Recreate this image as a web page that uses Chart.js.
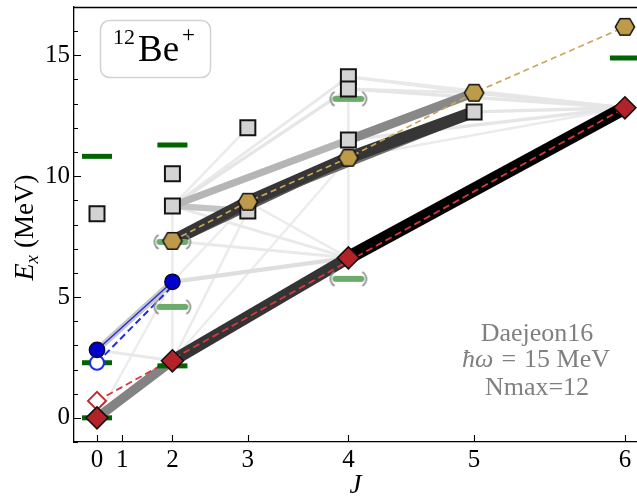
<!DOCTYPE html>
<html>
<head>
<meta charset="utf-8">
<script src="https://cdn.jsdelivr.net/npm/chart.js@4"></script>
<style>
  html, body { margin: 0; padding: 0; background: #fff; overflow: hidden; }
  #wrap { width: 637px; height: 496px; }
</style>
</head>
<body>
<div id="wrap"><canvas id="c" width="637" height="496"></canvas></div>
<script>
// ---- axis ticks ----
const J_TICKS = [0, 1, 2, 3, 4, 5, 6];
const Y_TICKS = [0, 5, 10, 15];

// ---- levels (J, excitation energy in MeV) ----
// firm experimental levels
const expJ = [0, 0, 0, 2, 2, 6];
const expE = [0.00, 2.28, 10.82, 2.15, 11.29, 14.89];
// tentative experimental levels
const tentJ = [2, 2, 4, 4];
const tentE = [4.59, 7.28, 5.75, 13.20];
// other calculated states
const calcJ = [0, 2, 2, 3, 3, 4, 4, 4, 5];
const calcE = [8.44, 10.10, 8.77, 12.00, 8.56, 14.11, 13.61, 11.50, 12.66];
// ground-state band and its rotational fit
const gsJ = [0, 2, 4, 6];
const gsE = [0.00, 2.36, 6.62, 12.83];
const gsFitE = [0.70, 2.43, 6.48, 12.83];
// excited band
const exJ = [2, 3, 4, 5, 6];
const exE = [7.32, 8.94, 10.76, 13.45, 16.18];
// 0+/2+ pair and its fit
const k0J = [0, 2];
const k0E = [2.81, 5.63];
const k0FitE = [2.28, 5.45];

// ---- E2 transitions: initial (J,E), final (J,E), relative strength ----
const trFromJ = [0, 2, 4, 2, 3, 2, 4, 3, 2, 4, 2, 2, 2, 2, 0, 2, 0, 2, 3, 2, 2, 0, 4, 4, 5, 5, 4, 4, 2, 4, 4, 4, 2, 2];
const trFromE = [0.00, 2.36, 6.62, 7.32, 8.94, 7.32, 10.76, 8.94, 8.77, 11.50, 8.77, 8.77, 8.77, 8.77, 2.81, 5.63, 2.81, 7.32, 8.94, 2.36, 2.36, 0.00, 13.61, 14.11, 13.45, 12.66, 11.50, 10.76, 8.77, 13.61, 13.61, 14.11, 8.77, 5.63];
const trToJ   = [2, 4, 6, 3, 4, 4, 5, 5, 4, 5, 3, 4, 4, 3, 2, 4, 2, 4, 4, 3, 4, 2, 6, 6, 6, 6, 6, 6, 2, 4, 5, 5, 4, 3];
const trToE   = [2.36, 6.62, 12.83, 8.94, 10.76, 10.76, 12.66, 12.66, 11.50, 13.45, 8.56, 13.61, 14.11, 12.00, 5.63, 6.62, 2.36, 6.62, 6.62, 8.56, 10.76, 5.63, 12.83, 12.83, 12.83, 12.83, 12.83, 12.83, 2.36, 6.62, 13.45, 13.45, 6.62, 8.94];
const trB     = [0.42, 0.75, 1.00, 0.74, 0.74, 0.60, 0.74, 0.50, 0.22, 0.40, 0.16, 0.03, 0.02, 0.01, 0.15, 0.06, 0.02, 0.02, 0.01, 0.01, 0.008, 0.008, 0.03, 0.02, 0.03, 0.03, 0.03, 0.01, 0.01, 0.01, 0.02, 0.02, 0.02, 0.008];

// horizontal axis is J(J+1)
const jj = j => j * (j + 1);
const pts = (js, es) => js.map((j, i) => ({ x: jj(j), y: es[i] }));

const SERIF = '"Liberation Serif", "Times New Roman", serif';

// hexagon marker
function makeHexagon() {
  const c = document.createElement('canvas');
  c.width = 24; c.height = 22;
  const g = c.getContext('2d');
  const R = 9.6, cx = 12, cy = 11;
  g.beginPath();
  for (let k = 0; k < 6; k++) {
    const a = k * Math.PI / 3;
    const px = cx + R * Math.cos(a), py = cy + R * Math.sin(a);
    if (k === 0) g.moveTo(px, py); else g.lineTo(px, py);
  }
  g.closePath();
  g.fillStyle = '#bd9b4b';
  g.fill();
  g.lineWidth = 1.5;
  g.strokeStyle = '#111';
  g.stroke();
  return c;
}

// tentative level marker: pale bar in parentheses
function makeTentative() {
  const c = document.createElement('canvas');
  c.width = 50; c.height = 26;
  const g = c.getContext('2d');
  const cx = 25, cy = 13;
  g.strokeStyle = '#6dab6d';
  g.lineWidth = 6;
  g.lineCap = 'round';
  g.beginPath();
  g.moveTo(cx - 13, cy); g.lineTo(cx + 13, cy);
  g.stroke();
  g.strokeStyle = '#8c8c8c';
  g.lineWidth = 1.7;
  g.lineCap = 'butt';
  g.beginPath();
  g.arc(cx - 10, cy, 8, Math.PI * 0.66, Math.PI * 1.34);
  g.stroke();
  g.beginPath();
  g.arc(cx + 10, cy, 8, -Math.PI * 0.34, Math.PI * 0.34);
  g.stroke();
  return c;
}

const hexImg = makeHexagon();
const tentImg = makeTentative();

const datasets = [];

// transition bands, weakest first so strong ones lie on top
trB.forEach((b, i) => {
  const gray = Math.round(238 * Math.pow(1 - b, 1.1));
  datasets.push({
    data: [{ x: jj(trFromJ[i]), y: trFromE[i] }, { x: jj(trToJ[i]), y: trToE[i] }],
    showLine: true,
    borderColor: `rgb(${gray},${gray},${gray})`,
    borderWidth: 1.2 + 12.5 * Math.sqrt(b),
    borderCapStyle: 'butt',
    pointRadius: 0,
    order: 100 + Math.round((1 - b) * 1000)
  });
});

// fit lines
datasets.push({
  data: pts(gsJ, gsFitE), showLine: true, borderColor: '#d9363e', borderWidth: 1.8,
  borderDash: [7, 4], pointRadius: 0, order: 5
});
datasets.push({
  data: pts(exJ, exE), showLine: true, borderColor: '#c9a65a', borderWidth: 1.7,
  borderDash: [6, 4], pointRadius: 0, order: 5
});
datasets.push({
  data: pts(k0J, k0FitE), showLine: true, borderColor: '#1f2cf0', borderWidth: 2,
  borderDash: [7, 4], pointRadius: 0, order: 5
});
datasets.push({
  data: pts(k0J, k0E), showLine: true, borderColor: '#2030e0', borderWidth: 1.4,
  pointRadius: 0, order: 5
});

// experimental levels
datasets.push({
  data: pts(expJ, expE), pointStyle: 'line', pointRadius: 15,
  pointBorderWidth: 5, pointBorderColor: '#006400', borderColor: '#006400', order: 4
});
datasets.push({
  data: pts(tentJ, tentE), pointStyle: tentImg, pointRadius: 10, order: 4
});

// calculated states
datasets.push({
  data: pts(calcJ, calcE), pointStyle: 'rect', pointRadius: 10.6,
  pointBackgroundColor: '#d3d3d3', pointBorderColor: '#141414', pointBorderWidth: 2, order: 2
});
datasets.push({
  data: [{ x: jj(gsJ[0]), y: gsFitE[0] }], pointStyle: 'rectRot', pointRadius: 9,
  pointBackgroundColor: '#ffffff', pointBorderColor: '#c0282c', pointBorderWidth: 1.9, order: 2
});
datasets.push({
  data: [{ x: jj(k0J[0]), y: k0FitE[0] }], pointStyle: 'circle', pointRadius: 7,
  pointBackgroundColor: '#ffffff', pointBorderColor: '#1f2cf0', pointBorderWidth: 2, order: 2
});
datasets.push({
  data: pts(gsJ, gsE), pointStyle: 'rectRot', pointRadius: 11,
  pointBackgroundColor: '#b22228', pointBorderColor: '#111', pointBorderWidth: 1.6, order: 0
});
datasets.push({
  data: pts(exJ, exE), pointStyle: hexImg, pointRadius: 10, order: 0
});
datasets.push({
  data: pts(k0J, k0E), pointStyle: 'circle', pointRadius: 7.6,
  pointBackgroundColor: '#0000d0', pointBorderColor: '#0a0a30', pointBorderWidth: 1.5, order: 0
});

// draw a run of text pieces with mixed fonts, centred on x
function drawRuns(ctx, runs, x, y) {
  let w = 0;
  runs.forEach(r => { ctx.font = r.font; w += ctx.measureText(r.t).width + (r.gap || 0); });
  let cx = x - w / 2;
  runs.forEach(r => {
    ctx.font = r.font;
    ctx.fillText(r.t, cx, y + (r.dy || 0));
    cx += ctx.measureText(r.t).width + (r.gap || 0);
  });
}

const decorations = {
  id: 'decorations',
  beforeDraw(chart) {
    const ctx = chart.ctx;
    ctx.save();
    ctx.fillStyle = '#fff';
    ctx.fillRect(0, 0, chart.width, chart.height);
    ctx.restore();
  },
  afterDraw(chart) {
    const ctx = chart.ctx;
    const a = chart.chartArea;
    const xs = chart.scales.x, ys = chart.scales.y;
    ctx.save();
    // top spine
    ctx.strokeStyle = '#000';
    ctx.lineWidth = 1.3;
    ctx.beginPath();
    ctx.moveTo(a.left, a.top + 0.5); ctx.lineTo(a.right, a.top + 0.5);
    ctx.stroke();
    // inward ticks
    ctx.lineWidth = 1.1;
    ctx.beginPath();
    for (let v = Math.ceil(ys.min); v <= ys.max; v++) {
      const py = Math.round(ys.getPixelForValue(v)) + 0.5;
      const len = Y_TICKS.includes(v) ? 7 : 4;
      ctx.moveTo(a.left, py); ctx.lineTo(a.left + len, py);
    }
    J_TICKS.forEach(j => {
      const px = Math.round(xs.getPixelForValue(jj(j))) + 0.5;
      ctx.moveTo(px, a.bottom); ctx.lineTo(px, a.bottom - 7);
    });
    ctx.stroke();

    // nucleus label box
    ctx.fillStyle = 'rgba(255,255,255,0.85)';
    ctx.strokeStyle = '#d2d2d2';
    ctx.lineWidth = 1.5;
    ctx.beginPath();
    ctx.roundRect(100.5, 20.5, 110, 57, 9);
    ctx.fill();
    ctx.stroke();
    ctx.fillStyle = '#000';
    ctx.textBaseline = 'alphabetic';
    ctx.textAlign = 'left';
    ctx.font = '22px ' + SERIF;
    ctx.fillText('12', 113, 44);
    ctx.font = '37px ' + SERIF;
    ctx.fillText('Be', 138, 61);
    ctx.font = '23px ' + SERIF;
    ctx.fillText('+', 182, 42);

    // interaction / model-space annotation
    ctx.fillStyle = '#808080';
    const it = 'italic 26px ' + SERIF, rm = '26px ' + SERIF;
    drawRuns(ctx, [{ t: 'Daejeon16', font: rm }], 537, 341);
    drawRuns(ctx, [
      { t: '\u0127\u03c9', font: it, gap: 8 },
      { t: '=', font: rm, gap: 8 },
      { t: '15 MeV', font: rm }
    ], 536, 367);
    drawRuns(ctx, [{ t: 'Nmax=12', font: rm }], 537, 395);

    // axis titles
    ctx.fillStyle = '#000';
    drawRuns(ctx, [{ t: 'J', font: 'italic 27px ' + SERIF }], (a.left + a.right) / 2, 493);
    ctx.translate(33, (a.top + a.bottom) / 2 + 3);
    ctx.rotate(-Math.PI / 2);
    drawRuns(ctx, [
      { t: 'E', font: 'italic 28px ' + SERIF },
      { t: 'x', font: 'italic 19px ' + SERIF, dy: 5, gap: 7 },
      { t: '(MeV)', font: '27px ' + SERIF }
    ], 0, 0);
    ctx.restore();
  }
};

new Chart(document.getElementById('c'), {
  type: 'scatter',
  data: { datasets },
  options: {
    responsive: false,
    animation: false,
    events: [],
    devicePixelRatio: 1,
    layout: { autoPadding: false, padding: { top: 7, left: 0, right: 0, bottom: 0 } },
    plugins: { legend: { display: false }, tooltip: { enabled: false } },
    scales: {
      x: {
        type: 'linear',
        min: -1.83,
        max: 42.96,
        afterBuildTicks: s => { s.ticks = J_TICKS.map(j => ({ value: jj(j) })); },
        afterFit: s => { s.height = 54; s.paddingLeft = 0; s.paddingRight = 0; },
        grid: { display: false, drawTicks: false },
        border: { display: true, color: '#000', width: 1.3 },
        ticks: {
          autoSkip: false, maxRotation: 0, padding: 3, color: '#000',
          font: { family: SERIF, size: 25 },
          callback: (v, i) => String(J_TICKS[i])
        }
      },
      y: {
        type: 'linear',
        min: -1,
        max: 17,
        afterBuildTicks: s => { s.ticks = Y_TICKS.map(v => ({ value: v })); },
        afterFit: s => { s.width = 74; s.paddingTop = 0; s.paddingBottom = 0; },
        grid: { display: false, drawTicks: false },
        border: { display: true, color: '#000', width: 1.3 },
        ticks: {
          padding: 4, color: '#000',
          font: { family: SERIF, size: 25 },
          callback: v => String(v)
        }
      }
    }
  },
  plugins: [decorations]
});
</script>
</body>
</html>
